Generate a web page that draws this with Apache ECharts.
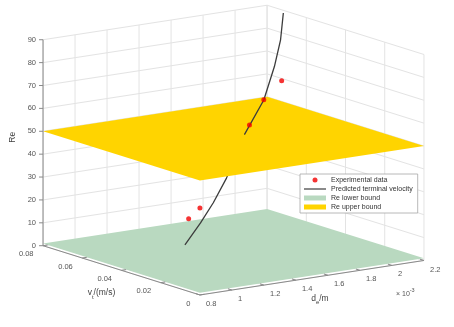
<!DOCTYPE html>
<html><head><meta charset="utf-8">
<script src="https://cdn.jsdelivr.net/npm/echarts@6/dist/echarts.min.js"></script>
<style>html,body{margin:0;padding:0;background:#fff}#c{width:454px;height:327px}</style>
</head><body><div id="c"></div>
<script>
// ---- tick labels ----
const dTicks = [0.8, 1, 1.2, 1.4, 1.6, 1.8, 2, 2.2];      // d_e (x 1e-3 m)
const vTicks = [0, 0.02, 0.04, 0.06, 0.08];               // v_t (m/s)
const reTicks = [0, 10, 20, 30, 40, 50, 60, 70, 80, 90];  // Re

// ---- experimental data ----
const expD  = [1.08, 1.17, 1.65, 1.78, 1.91];
const expV  = [0.0286, 0.0302, 0.0441, 0.0474, 0.0489];
const expRe = [22.6, 25.9, 53.3, 62.0, 68.5];

// ---- predicted terminal velocity ----
const curveD  = [0.96, 1.12, 1.25, 1.39, 1.50, 1.60, 1.78, 1.91, 2.00, 2.07];
const curveV  = [0.0207, 0.0258, 0.0299, 0.0346, 0.0388, 0.0426, 0.0474, 0.0526, 0.0568, 0.0611];
const curveRe = [14.6, 21.1, 27.4, 35.4, 42.8, 50.0, 61.9, 73.7, 83.3, 93.1];

// ---- Re bounds ----
const reLower = 1;
const reUpper = 50;

const FONT = '"Liberation Sans", Arial, Helvetica, sans-serif';
const D_MIN = dTicks[0], D_MAX = dTicks[dTicks.length - 1];
const V_MIN = vTicks[0], V_MAX = vTicks[vTicks.length - 1];
const RE_MIN = reTicks[0], RE_MAX = reTicks[reTicks.length - 1];

// orthographic 3D view
const AZ = 35 * Math.PI / 180, EL = 12.7 * Math.PI / 180, Z_ASPECT = 0.772;
function project(d, v, re) {
  const u = (d - D_MIN) / (D_MAX - D_MIN) - 0.5;
  const w = (v - V_MIN) / (V_MAX - V_MIN) - 0.5;
  const h = (re - RE_MIN) / (RE_MAX - RE_MIN) - 0.5;
  return [u * Math.cos(AZ) - w * Math.sin(AZ),
          (u * Math.sin(AZ) + w * Math.cos(AZ)) * Math.sin(EL) + h * Z_ASPECT * Math.cos(EL)];
}
const HW = 0.5 * (Math.cos(AZ) + Math.sin(AZ));
const HH = HW * Math.sin(EL) + 0.5 * Z_ASPECT * Math.cos(EL);
const SCALE = 273.5, CX = 233.5, CY = 150.1;

function seg(a, b) { return project(a[0], a[1], a[2]).concat(project(b[0], b[1], b[2])); }
const gridSegs = [];
reTicks.forEach(r => {
  gridSegs.push(seg([D_MIN, V_MAX, r], [D_MAX, V_MAX, r]));
  gridSegs.push(seg([D_MAX, V_MIN, r], [D_MAX, V_MAX, r]));
});
dTicks.forEach(d => {
  gridSegs.push(seg([d, V_MAX, RE_MIN], [d, V_MAX, RE_MAX]));
  gridSegs.push(seg([d, V_MIN, RE_MIN], [d, V_MAX, RE_MIN]));
});
vTicks.forEach(v => {
  gridSegs.push(seg([D_MAX, v, RE_MIN], [D_MAX, v, RE_MAX]));
  gridSegs.push(seg([D_MIN, v, RE_MIN], [D_MAX, v, RE_MIN]));
});

const curvePts = curveD.map((d, i) => ({ p: project(d, curveV[i], curveRe[i]), re: curveRe[i] }));
const curveLower = curvePts.filter(o => o.re <= reUpper).map(o => o.p);
const curveUpper = curvePts.filter(o => o.re >= reUpper).map(o => o.p);
const expPts = expD.map((d, i) => ({ p: project(d, expV[i], expRe[i]), re: expRe[i] }));
const expLower = expPts.filter(o => o.re < reUpper).map(o => o.p);
const expUpper = expPts.filter(o => o.re >= reUpper).map(o => o.p);

const GREEN = '#b9d9c0', YELLOW = '#ffd400', RED = '#f20000', CURVE = '#3c3c3c';

function planeSeries(name, re, color, z) {
  return {
    type: 'custom', name, z, silent: true, itemStyle: { color },
    data: [[0, 0, re]], encode: { x: 0, y: 1 },
    renderItem: (p, api) => {
      const r = api.value(2);
      const pts = [[D_MIN, V_MIN], [D_MAX, V_MIN], [D_MAX, V_MAX], [D_MIN, V_MAX]]
        .map(c => api.coord(project(c[0], c[1], r)));
      return { type: 'polygon', shape: { points: pts }, style: { fill: color } };
    }
  };
}

function axesRender(p, api) {
  const ch = [];
  const AX = '#8a8a8a', TXT = '#555', LBL = '#404040';
  const P = (d, v, r) => api.coord(project(d, v, r));
  const line = (a, b, c, w) => ch.push({ type: 'line', shape: { x1: a[0], y1: a[1], x2: b[0], y2: b[1] }, style: { stroke: c, lineWidth: w } });
  const text = (s, x, y, align, size, color, extra) => ch.push(Object.assign({
    type: 'text', x, y,
    style: Object.assign({ text: s, textAlign: align, textVerticalAlign: 'middle', fontSize: size, fontFamily: FONT, fill: color }, extra || {})
  }));
  // axis lines
  line(P(D_MIN, V_MAX, RE_MIN), P(D_MIN, V_MAX, RE_MAX), AX, 1);
  line(P(D_MIN, V_MIN, RE_MIN), P(D_MIN, V_MAX, RE_MIN), AX, 1);
  line(P(D_MIN, V_MIN, RE_MIN), P(D_MAX, V_MIN, RE_MIN), AX, 1);
  // z ticks
  reTicks.forEach(r => {
    const a = P(D_MIN, V_MAX, r);
    line([a[0] - 4, a[1]], a, AX, 1);
    text(String(r), a[0] - 7, a[1], 'right', 7.5, TXT);
  });
  // v ticks
  vTicks.forEach(v => {
    const a = P(D_MIN, v, RE_MIN), b = P(D_MIN + 0.02 * (D_MAX - D_MIN), v, RE_MIN);
    line(a, b, AX, 1);
    text(String(v), a[0] - 9.5, a[1] + 8.5, 'right', 7.5, TXT);
  });
  // d ticks
  dTicks.forEach(d => {
    const a = P(d, V_MIN, RE_MIN), b = P(d, V_MIN + 0.025 * (V_MAX - V_MIN), RE_MIN);
    line(a, b, AX, 1);
    text(String(d), a[0] + 6, a[1] + 9, 'left', 7.5, TXT);
  });
  // exponent
  const c = P(D_MAX, V_MIN, RE_MIN);
  text('{a|× 10}{s|-3}', c[0] - 28, c[1] + 32, 'left', 7, TXT, {
    rich: { a: { fontSize: 7, fontFamily: FONT, fill: TXT, lineHeight: 10, verticalAlign: 'bottom' },
            s: { fontSize: 5.5, fontFamily: FONT, fill: TXT, lineHeight: 6, verticalAlign: 'top' } }
  });
  // axis titles
  const dm = P((D_MIN + D_MAX) / 2, V_MIN, RE_MIN);
  text('{a|d}{s|e}{a|/m}', dm[0] + 8, dm[1] + 22, 'center', 8.5, LBL, {
    rich: { a: { fontSize: 8.5, fontFamily: FONT, fill: LBL, lineHeight: 12, verticalAlign: 'top' },
            s: { fontSize: 6, fontFamily: FONT, fill: LBL, lineHeight: 6, verticalAlign: 'bottom' } }
  });
  const vm = P(D_MIN, (V_MIN + V_MAX) / 2, RE_MIN);
  text('{a|v}{s|t}{a|/(m/s)}', vm[0] - 20, vm[1] + 24, 'center', 8.5, LBL, {
    rich: { a: { fontSize: 8.5, fontFamily: FONT, fill: LBL, lineHeight: 12, verticalAlign: 'top' },
            s: { fontSize: 6, fontFamily: FONT, fill: LBL, lineHeight: 6, verticalAlign: 'bottom' } }
  });
  const zm = P(D_MIN, V_MAX, (RE_MIN + RE_MAX) / 2);
  ch.push({ type: 'text', x: zm[0] - 30, y: zm[1] - 5.5, rotation: Math.PI / 2,
    style: { text: 'Re', textAlign: 'center', textVerticalAlign: 'middle', fontSize: 8.5, fontFamily: FONT, fill: LBL } });
  return { type: 'group', children: ch };
}

const chart = echarts.init(document.getElementById('c'), null, { renderer: 'canvas' });
chart.setOption({
  animation: false,
  backgroundColor: '#fff',
  grid: { left: CX - HW * SCALE, top: CY - HH * SCALE, width: 2 * HW * SCALE, height: 2 * HH * SCALE, containLabel: false },
  xAxis: { type: 'value', min: -HW, max: HW, show: false },
  yAxis: { type: 'value', min: -HH, max: HH, show: false },
  legend: {
    orient: 'vertical', left: 300, top: 174, z: 20,
    itemWidth: 22, itemHeight: 5, itemGap: 0,
    padding: [1.5, 5, 1.5, 4],
    backgroundColor: '#fff', borderColor: '#a6a6a6', borderWidth: 0.8, borderRadius: 0,
    selectedMode: false,
    textStyle: { fontSize: 7, lineHeight: 9, color: '#333', fontFamily: FONT },
    data: [
      { name: 'Experimental data', icon: 'circle', itemStyle: { color: RED } },
      { name: 'Predicted terminal velocity', icon: 'path://M0 0H22V1.2H0Z', itemStyle: { color: CURVE } },
      { name: 'Re lower bound', icon: 'rect', itemStyle: { color: GREEN } },
      { name: 'Re upper bound', icon: 'rect', itemStyle: { color: YELLOW } }
    ]
  },
  series: [
    { type: 'custom', z: 1, silent: true, data: gridSegs, encode: { x: 0, y: 1 },
      renderItem: (p, api) => {
        const a = api.coord([api.value(0), api.value(1)]), b = api.coord([api.value(2), api.value(3)]);
        return { type: 'line', shape: { x1: a[0], y1: a[1], x2: b[0], y2: b[1] }, style: { stroke: '#e3e3e3', lineWidth: 1 } };
      } },
    planeSeries('Re lower bound', reLower, GREEN, 2),
    { type: 'line', name: 'Predicted terminal velocity', z: 3, data: curveLower, symbol: 'none', clip: false,
      lineStyle: { color: CURVE, width: 1.3 }, itemStyle: { color: CURVE } },
    { type: 'scatter', name: 'Experimental data', z: 3, data: expLower, symbolSize: 5, itemStyle: { color: RED } },
    planeSeries('Re upper bound', reUpper, YELLOW, 4),
    { type: 'line', name: 'Predicted terminal velocity', z: 5, data: curveUpper, symbol: 'none', clip: false,
      lineStyle: { color: CURVE, width: 1.3 }, itemStyle: { color: CURVE } },
    { type: 'scatter', name: 'Experimental data', z: 6, data: expUpper, symbolSize: 5, itemStyle: { color: RED } },
    { type: 'custom', z: 7, silent: true, data: [[0, 0]], encode: { x: 0, y: 1 }, renderItem: axesRender }
  ]
});
</script></body></html>
